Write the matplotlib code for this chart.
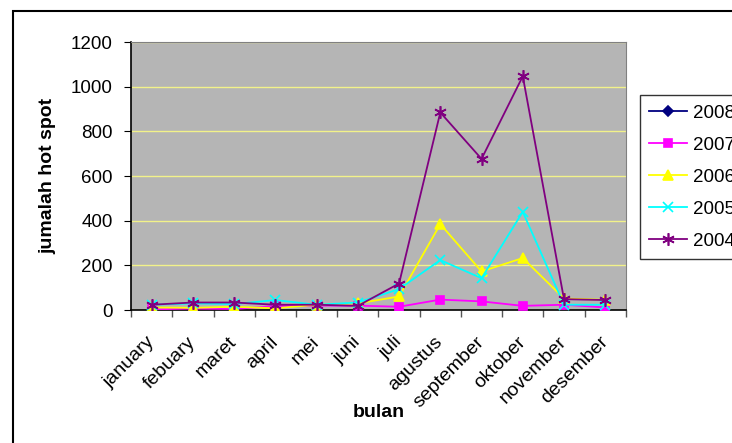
import numpy as np
import matplotlib
matplotlib.use('Agg')
import matplotlib.pyplot as plt
from matplotlib.patches import Rectangle

plt.rcParams['font.family'] = ['Liberation Sans', 'DejaVu Sans']

# jumlah hot spot per bulan
bulan = ['january', 'febuary', 'maret', 'april', 'mei', 'juni', 'juli',
         'agustus', 'september', 'oktober', 'november', 'desember']
hs_2008 = [np.nan] * 12
hs_2007 = [3, 7, 5, 18, 20, 20, 15, 47, 39, 19, 24, 12]
hs_2006 = [12, 10, 15, 8, 24, 30, 61, 385, 173, 233, 52, 46]
hs_2005 = [24, 30, 27, 45, 24, 34, 94, 224, 143, 440, 24, 24]
hs_2004 = [24, 34, 34, 24, 24, 19, 119, 885, 677, 1047, 49, 45]

series = [
    ('2008', hs_2008, '#000080', 'D', 5),
    ('2007', hs_2007, '#ff00ff', 's', 6),
    ('2006', hs_2006, '#ffff00', '^', 7),
    ('2005', hs_2005, '#00ffff', 'x', 7),
    ('2004', hs_2004, '#800080', (6, 2, 0), 9),
]

fig = plt.figure(figsize=(7.32, 4.43), dpi=100, facecolor='white')
ax = fig.add_axes([0.179, 0.300, 0.676, 0.605])
ax.set_facecolor('#b5b5b5')

x = np.arange(len(bulan))
for name, vals, col, mk, ms in series:
    ax.plot(x, vals, color=col, marker=mk, markersize=ms, lw=1.3,
            markeredgewidth=1.2, label=name, zorder=3)

ax.set_xlim(-0.5, len(bulan) - 0.5)
ax.set_ylim(0, 1200)
ax.set_yticks(range(0, 1201, 200))
ax.yaxis.grid(True, color='#f2f28a', lw=1)
ax.set_axisbelow(True)

# label bulan miring, ujung kanan di tengah kategori
ax.set_xticks(x)
ax.set_xticklabels(bulan, rotation=45, ha='right', va='center',
                   rotation_mode='anchor', fontsize=14)
ax.set_xticks(np.arange(-0.5, len(bulan)), minor=True)
ax.tick_params(axis='x', which='major', length=0, pad=21)
ax.tick_params(axis='x', which='minor', length=5, width=1, color='#555555')
ax.tick_params(axis='y', length=5, labelsize=13.5, pad=8)

for s in ['top', 'right']:
    ax.spines[s].set_color('#808080')
for s in ['left', 'bottom']:
    ax.spines[s].set_color('black')
    ax.spines[s].set_linewidth(1.2)

ax.set_xlabel('bulan', fontsize=14, fontweight='bold')
ax.xaxis.set_label_coords(0.5, -0.35)
ax.set_ylabel('jumalah hot spot', fontsize=14, fontweight='bold')
ax.yaxis.set_label_coords(-0.15, 0.5)

fig.legend(loc='upper left', bbox_to_anchor=(640 / 732, 1 - 95 / 443),
           frameon=True, fancybox=False, edgecolor='black', fontsize=13.5,
           handlelength=2.0, labelspacing=0.8, borderpad=0.5,
           handletextpad=0.3, borderaxespad=0)

# bingkai luar
fig.patches.append(Rectangle((13 / 732, -0.1), 1.2, 1.1 - 11 / 443,
                             transform=fig.transFigure, fill=False,
                             edgecolor='black', lw=1.5))

fig.savefig('out.png', dpi=100, facecolor=fig.get_facecolor())
